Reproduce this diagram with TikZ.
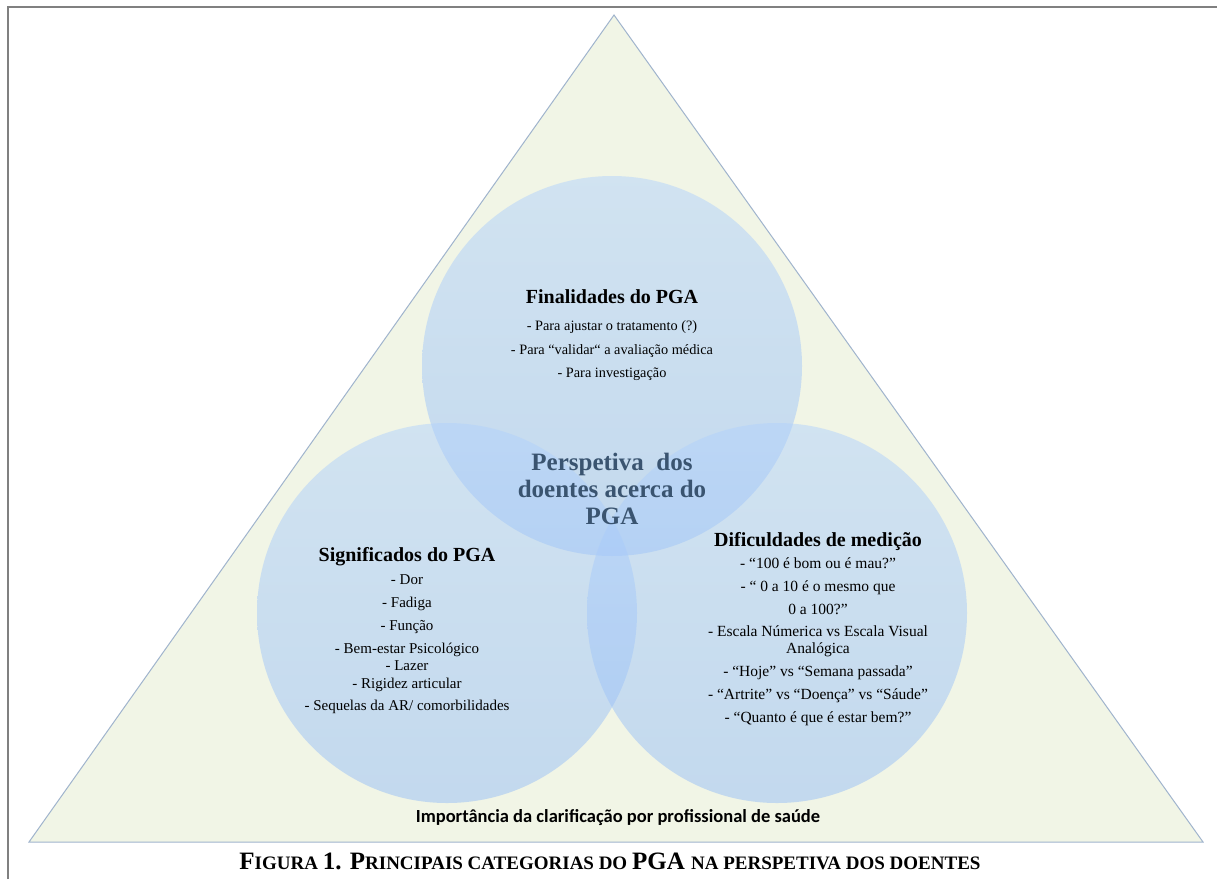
\documentclass[tikz,border=0pt]{standalone}
\usepackage{fontspec}
\setmainfont{Liberation Serif}
\newfontfamily\carl{Carlito}
\definecolor{trifill}{RGB}{241,245,230}
\definecolor{tridraw}{RGB}{160,180,205}
\definecolor{circtop}{RGB}{178,210,252}
\definecolor{circbot}{RGB}{150,190,246}
\definecolor{centertext}{RGB}{58,84,112}
\definecolor{framegray}{RGB}{128,128,128}
\newcommand\BL[1]{{\fontsize{25}{27}\selectfont #1}}
\newcommand\SM[1]{{\fontsize{19}{21}\selectfont #1}}
\tikzset{
  circ/.style={circle, minimum size=380pt, inner sep=0pt, top color=circtop, bottom color=circbot, fill opacity=0.5, draw=none},
  ttl/.style={font=\fontsize{20}{22}\selectfont\bfseries, inner sep=0pt, anchor=base},
  itmtop/.style={font=\fontsize{14.3}{15}\selectfont, inner sep=0pt, anchor=base},
  itmleft/.style={font=\fontsize{15}{16}\selectfont, inner sep=0pt, anchor=base},
  itmright/.style={font=\fontsize{15.5}{16}\selectfont, inner sep=0pt, anchor=base},
  ctr/.style={font=\fontsize{25}{27}\selectfont\bfseries, text=centertext, inner sep=0pt, anchor=base},
}
\begin{document}
\begin{tikzpicture}[x=1pt,y=-1pt]
\useasboundingbox (0,0) rectangle (1217,879);
\fill[white] (0,0) rectangle (1217,879);
\draw[framegray, line width=2pt] (8,879) -- (8,7) -- (1217,7);
% triangle
\coordinate (apex) at (614,15);
\coordinate (bl) at (29,842);
\coordinate (br) at (1203,842);
\draw[tridraw, fill=trifill, line width=1pt, line join=miter] (apex) -- (bl) -- (br) -- cycle;
% circles
\node[circ] (ctop) at (612,366) {};
\node[circ] (cleft) at (447,613) {};
\node[circ] (cright) at (777,613) {};
% top circle text
\node[ttl] (t0) at (612,303) {Finalidades do PGA};
\node[itmtop] (t1) at (612,330) {- Para ajustar o tratamento (?)};
\node[itmtop] (t2) at (612,354) {- Para ``validar`` a avaliação médica};
\node[itmtop] (t3) at (612,377) {- Para investigação};
% center
\node[ctr] (c1) at (612,470) {Perspetiva\ \ dos};
\node[ctr] (c2) at (612,497) {doentes acerca do};
\node[ctr] (c3) at (612,524) {PGA};
% left circle text
\node[ttl] (l0) at (407,561) {Significados do PGA};
\node[itmleft] (l1) at (407,584) {- Dor};
\node[itmleft] (l2) at (407,607) {- Fadiga};
\node[itmleft] (l3) at (407,630) {- Função};
\node[itmleft] (l4) at (407,653) {- Bem-estar Psicológico};
\node[itmleft] (l5) at (407,670) {- Lazer};
\node[itmleft] (l6) at (407,688) {- Rigidez articular};
\node[itmleft] (l7) at (407,710) {- Sequelas da AR/ comorbilidades};
% right circle text
\node[ttl] (r0) at (818,546) {Dificuldades de medição};
\node[itmright] (r1) at (818,568) {- ``100 é bom ou é mau?''};
\node[itmright] (r2) at (818,591) {- `` 0 a 10 é o mesmo que};
\node[itmright] (r3) at (818,614) {0 a 100?''};
\node[itmright] (r4) at (818,636) {- Escala Númerica vs Escala Visual};
\node[itmright] (r5) at (818,653) {Analógica};
\node[itmright] (r6) at (818,676) {- ``Hoje'' vs ``Semana passada''};
\node[itmright] (r7) at (818,699) {- ``Artrite'' vs ``Doença'' vs ``Sáude''};
\node[itmright] (r8) at (818,722) {- ``Quanto é que é estar bem?''};
% bottom label
\node[font=\carl\bfseries\fontsize{18.5}{20}\selectfont, inner sep=0pt, anchor=base] (imp) at (618,822) {Importância da clarificação por profissional de saúde};
% caption
\node[font=\bfseries, inner sep=0pt, anchor=base] (cap) at (610,869) {\BL{F}\SM{IGURA }\BL{1. P}\SM{RINCIPAIS CATEGORIAS DO }\BL{PGA }\SM{NA PERSPETIVA DOS DOENTES}};
\end{tikzpicture}
\end{document}
